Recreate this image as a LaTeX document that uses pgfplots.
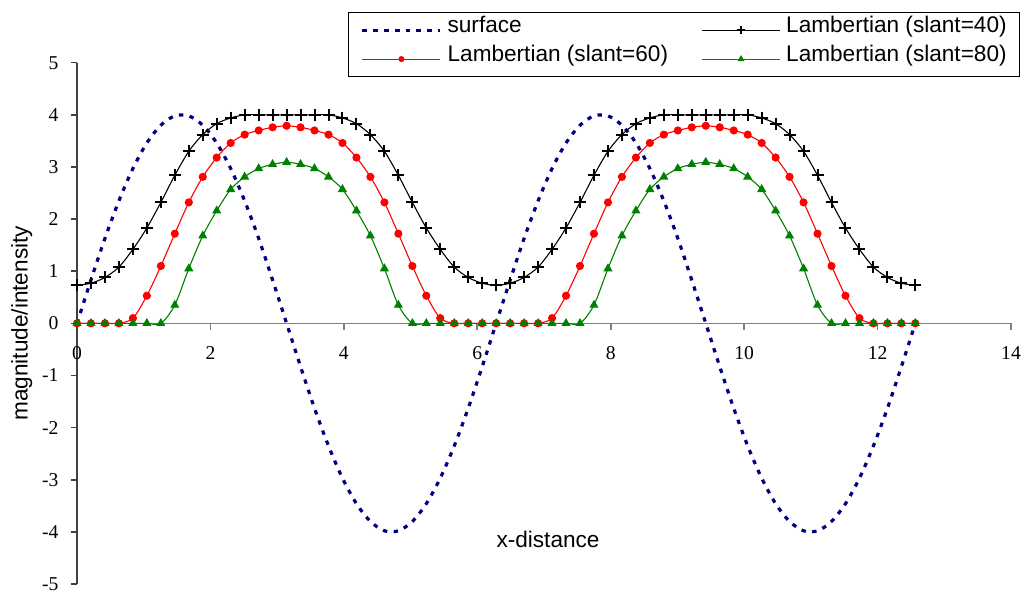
\documentclass[border=0pt]{standalone}
\usepackage{fontspec}
\setmainfont{Liberation Sans}
\newfontfamily\timesfont{Liberation Serif}
\usepackage{pgfplots}
\pgfplotsset{compat=1.18}
\usepackage{pgfplotstable}
\definecolor{surfblue}{RGB}{0,0,128}
\definecolor{lamred}{RGB}{255,0,0}
\definecolor{lamgreen}{RGB}{0,128,0}

% surface height and Lambertian intensities, step pi/15
\pgfplotstableread{
x      surf   l40   l60   l80
0.000   0.00  0.73  0.00  0.00
0.209   0.83  0.77  0.00  0.00
0.419   1.63  0.88  0.00  0.00
0.628   2.35  1.08  0.00  0.00
0.838   2.97  1.42  0.10  0.00
1.047   3.46  1.83  0.53  0.00
1.257   3.80  2.32  1.10  0.00
1.466   3.98  2.84  1.72  0.35
1.676   3.98  3.30  2.32  1.05
1.885   3.80  3.62  2.81  1.68
2.094   3.46  3.83  3.18  2.16
2.304   2.97  3.94  3.46  2.57
2.513   2.35  4.00  3.62  2.81
2.723   1.63  4.00  3.70  2.97
2.932   0.83  4.00  3.76  3.05
3.142   0.00  4.00  3.79  3.09
3.351  -0.83  4.00  3.76  3.05
3.560  -1.63  4.00  3.70  2.97
3.770  -2.35  4.00  3.62  2.81
3.979  -2.97  3.94  3.46  2.57
4.189  -3.46  3.83  3.18  2.16
4.398  -3.80  3.62  2.81  1.68
4.608  -3.98  3.30  2.32  1.05
4.817  -3.98  2.84  1.72  0.35
5.027  -3.80  2.32  1.10  0.00
5.236  -3.46  1.83  0.53  0.00
5.445  -2.97  1.42  0.10  0.00
5.655  -2.35  1.08  0.00  0.00
5.864  -1.63  0.88  0.00  0.00
6.074  -0.83  0.77  0.00  0.00
6.283   0.00  0.73  0.00  0.00
6.493   0.83  0.77  0.00  0.00
6.702   1.63  0.88  0.00  0.00
6.912   2.35  1.08  0.00  0.00
7.121   2.97  1.42  0.10  0.00
7.330   3.46  1.83  0.53  0.00
7.540   3.80  2.32  1.10  0.00
7.749   3.98  2.84  1.72  0.35
7.959   3.98  3.30  2.32  1.05
8.168   3.80  3.62  2.81  1.68
8.378   3.46  3.83  3.18  2.16
8.587   2.97  3.94  3.46  2.57
8.796   2.35  4.00  3.62  2.81
9.006   1.63  4.00  3.70  2.97
9.215   0.83  4.00  3.76  3.05
9.425   0.00  4.00  3.79  3.09
9.634  -0.83  4.00  3.76  3.05
9.844  -1.63  4.00  3.70  2.97
10.053 -2.35  4.00  3.62  2.81
10.263 -2.97  3.94  3.46  2.57
10.472 -3.46  3.83  3.18  2.16
10.681 -3.80  3.62  2.81  1.68
10.891 -3.98  3.30  2.32  1.05
11.100 -3.98  2.84  1.72  0.35
11.310 -3.80  2.32  1.10  0.00
11.519 -3.46  1.83  0.53  0.00
11.729 -2.97  1.42  0.10  0.00
11.938 -2.35  1.08  0.00  0.00
12.148 -1.63  0.88  0.00  0.00
12.357 -0.83  0.77  0.00  0.00
12.566  0.00  0.73  0.00  0.00
}\profile

\begin{document}
\begin{tikzpicture}[x=1pt,y=1pt]
\useasboundingbox (-38.5,-5) rectangle (473.5,292);
\begin{axis}[
    scale only axis,
    width=467pt, height=260.65pt,
    xmin=0, xmax=14, ymin=-5, ymax=5,
    axis x line=middle, axis y line=left,
    x axis line style={-, black!50, line width=0.8pt},
    y axis line style={-, black!75, line width=0.8pt},
    hide obscured x ticks=false, hide obscured y ticks=false,
    xtick={0,2,...,14}, ytick={-5,-4,...,5},
    tick align=outside, major tick length=3.2pt,
    x tick style={black!50, line width=0.8pt},
    y tick style={black!75, line width=0.8pt},
    ticklabel style={font=\timesfont\fontsize{9.8}{11}\selectfont},
    /pgf/number format/assume math mode=true,
    xticklabel style={yshift=-5pt},
    yticklabel style={xshift=-2.5pt},
    xlabel={x-distance},
    xlabel style={at={(axis description cs:0.5043,0.0863)}, anchor=center,
        font=\fontsize{11.3}{13}\selectfont},
    ylabel={magnitude/intensity},
    ylabel style={at={(axis description cs:-0.059,0.5)}, anchor=center,
        font=\fontsize{11.3}{13}\selectfont},
    clip=false,
    legend columns=2,
    legend cell align=left,
    legend style={
        at={(1.0096,1.0978)}, anchor=north east,
        draw=black, line width=0.6pt, fill=white,
        font=\fontsize{11.3}{13}\selectfont,
        inner xsep=6.35pt, inner ysep=0pt,
        nodes={inner xsep=0pt, text depth=5.6pt},
        row sep=-3.3pt,
        /tikz/every even column/.append style={column sep=16.7pt},
    },
    legend image code/.code={
        \draw[mark repeat=2, mark phase=2, every mark/.append style={scale=0.7}]
            plot coordinates {(0pt,0pt) (19.5pt,0pt) (39pt,0pt)};
        \path (41.8pt,0pt);
    },
]
\addplot[surfblue, line width=1.6pt, dash pattern=on 2.2pt off 3.2pt, smooth]
    table[x=x, y=surf] {\profile};
\addlegendentry{surface}
\addplot[black, line width=0.55pt, smooth, mark=+, mark size=3pt,
    mark options={line width=1pt, solid}]
    table[x=x, y=l40] {\profile};
\addlegendentry{Lambertian (slant=40)}
\addplot[lamred, line width=0.55pt, smooth, mark=*, mark size=1.75pt,
    mark options={solid, fill=lamred, draw=lamred}]
    table[x=x, y=l60] {\profile};
\addlegendentry{Lambertian (slant=60)}
\addplot[lamgreen, line width=0.55pt, smooth, mark=triangle*, mark size=2.1pt,
    mark options={solid, fill=lamgreen, draw=lamgreen}]
    table[x=x, y=l80] {\profile};
\addlegendentry{Lambertian (slant=80)}
\end{axis}
\end{tikzpicture}
\end{document}
